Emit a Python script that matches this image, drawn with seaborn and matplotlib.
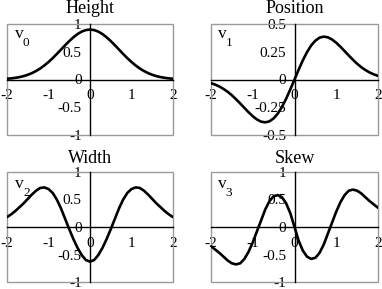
import matplotlib
matplotlib.use("Agg")
import matplotlib.pyplot as plt
import matplotlib.patches as mpatches
import matplotlib.transforms as mtransforms
from matplotlib.ticker import FixedLocator, FixedFormatter
import seaborn as sns
import pandas as pd

# ---- data ----
x_vals = [-2.0, -1.9, -1.8, -1.7, -1.6, -1.5, -1.4, -1.3, -1.2, -1.1, -1.0,
          -0.9, -0.8, -0.7, -0.6, -0.5, -0.4, -0.3, -0.2, -0.1, 0.0,
          0.1, 0.2, 0.3, 0.4, 0.5, 0.6, 0.7, 0.8, 0.9, 1.0,
          1.1, 1.2, 1.3, 1.4, 1.5, 1.6, 1.7, 1.8, 1.9, 2.0]

v0 = [0.014, 0.020, 0.030, 0.043, 0.061, 0.085, 0.115, 0.153, 0.198, 0.253, 0.315,
      0.384, 0.460, 0.538, 0.617, 0.692, 0.761, 0.819, 0.863, 0.891, 0.900,
      0.891, 0.863, 0.819, 0.761, 0.692, 0.617, 0.538, 0.460, 0.384, 0.315,
      0.253, 0.198, 0.153, 0.115, 0.085, 0.061, 0.043, 0.030, 0.020, 0.014]

v1 = [-0.033, -0.046, -0.063, -0.085, -0.111, -0.142, -0.178, -0.216, -0.256, -0.295, -0.331,
      -0.360, -0.380, -0.386, -0.377, -0.350, -0.307, -0.247, -0.173, -0.089, 0.0,
      0.089, 0.173, 0.247, 0.307, 0.350, 0.377, 0.386, 0.380, 0.360, 0.331,
      0.295, 0.256, 0.216, 0.178, 0.142, 0.111, 0.085, 0.063, 0.046, 0.033]

v2 = [0.18, 0.23, 0.29, 0.36, 0.43, 0.51, 0.59, 0.66, 0.71, 0.72, 0.69,
      0.62, 0.50, 0.34, 0.15, -0.04, -0.22, -0.38, -0.51, -0.60, -0.63,
      -0.60, -0.51, -0.38, -0.22, -0.04, 0.15, 0.34, 0.50, 0.62, 0.69,
      0.72, 0.71, 0.66, 0.59, 0.51, 0.43, 0.36, 0.29, 0.23, 0.18]

v3 = [-0.35, -0.41, -0.47, -0.54, -0.61, -0.66, -0.68, -0.66, -0.58, -0.45, -0.28,
      -0.08, 0.12, 0.32, 0.47, 0.56, 0.58, 0.54, 0.43, 0.25, 0.0,
      -0.25, -0.43, -0.54, -0.58, -0.56, -0.47, -0.32, -0.12, 0.08, 0.28,
      0.45, 0.58, 0.66, 0.68, 0.66, 0.61, 0.54, 0.47, 0.41, 0.35]

titles = ["Height", "Position", "Width", "Skew"]
names = ["v0", "v1", "v2", "v3"]
subscripts = ["0", "1", "2", "3"]

x_major = [-2, -1, 0, 1, 2]
x_major_labels = ["-2", "-1", "0", "1", "2"]
x_minor = [-1.5, -0.5, 0.5, 1.5]

y_major_wide = [-1, -0.5, 0, 0.5, 1]
y_major_wide_labels = ["-1", "-0.5", "0", "0.5", "1"]
y_minor_wide = [-0.75, -0.25, 0.25, 0.75]

y_major_narrow = [-0.5, -0.25, 0, 0.25, 0.5]
y_major_narrow_labels = ["-0.5", "-0.25", "0", "0.25", "0.5"]
y_minor_narrow = [-0.375, -0.125, 0.125, 0.375]

df = pd.DataFrame({"x": x_vals, "v0": v0, "v1": v1, "v2": v2, "v3": v3})

# ---- style ----
sns.set_theme(style="white")
plt.rcParams["font.family"] = ["Liberation Serif", "DejaVu Serif"]
plt.rcParams["axes.unicode_minus"] = False

W, H = 382, 289
fig = plt.figure(figsize=(W / 100, H / 100), dpi=100)

# panel boxes in pixels: (left, top, right, bottom)
boxes = [(7, 24, 173, 135), (211, 24, 378, 135),
         (7, 172, 173, 282), (211, 172, 378, 282)]

for i, (l, t, r, b) in enumerate(boxes):
    ax = fig.add_axes([l / W, 1 - b / H, (r - l) / W, (b - t) / H])
    ax.set_facecolor("none")
    sns.lineplot(data=df, x="x", y=names[i], ax=ax, color="black",
                 linewidth=1.9, zorder=3)
    ax.set_xlabel("")
    ax.set_ylabel("")
    ax.set_xlim(-2, 2)
    if i == 1:
        ax.set_ylim(-0.5, 0.5)
        ax.yaxis.set_major_locator(FixedLocator(y_major_narrow))
        ax.yaxis.set_major_formatter(FixedFormatter(y_major_narrow_labels))
        ax.yaxis.set_minor_locator(FixedLocator(y_minor_narrow))
    else:
        ax.set_ylim(-1, 1)
        ax.yaxis.set_major_locator(FixedLocator(y_major_wide))
        ax.yaxis.set_major_formatter(FixedFormatter(y_major_wide_labels))
        ax.yaxis.set_minor_locator(FixedLocator(y_minor_wide))
    ax.xaxis.set_major_locator(FixedLocator(x_major))
    ax.xaxis.set_major_formatter(FixedFormatter(x_major_labels))
    ax.xaxis.set_minor_locator(FixedLocator(x_minor))

    for s in ["top", "right"]:
        ax.spines[s].set_visible(False)
    for s in ["left", "bottom"]:
        ax.spines[s].set_position(("data", 0))
        ax.spines[s].set_color("black")
        ax.spines[s].set_linewidth(1.0)
    ax.add_patch(mpatches.Rectangle((0, 0), 1, 1, transform=ax.transAxes,
                                    fill=False, edgecolor="#9a9a9a",
                                    linewidth=1.0, clip_on=False, zorder=1))

    ax.tick_params(axis="x", which="major", direction="inout", length=10,
                   width=0.8, color="black", labelsize=11, pad=2)
    ax.tick_params(axis="x", which="minor", direction="inout", length=5,
                   width=0.8, color="black")
    ax.tick_params(axis="y", which="major", direction="in", length=8,
                   width=0.8, color="black", labelsize=11, pad=6)
    ax.tick_params(axis="y", which="minor", direction="in", length=5,
                   width=0.8, color="black")
    for lab in ax.get_xticklabels() + ax.get_yticklabels():
        lab.set_color("black")

    ty = 1.095 if i < 2 else 1.08
    ax.text(0.5, ty, titles[i], transform=ax.transAxes, ha="center",
            va="baseline", fontsize=13, color="black")
    vy = 0.875 if i < 2 else 0.855
    vx = 0.048 if i in (0, 2) else 0.04
    ax.text(vx, vy, "v", transform=ax.transAxes, ha="left",
            va="baseline", fontsize=12.5, color="black")
    sub_tr = mtransforms.offset_copy(ax.transAxes, fig=fig, x=8.0, y=-8.5,
                                     units="dots")
    ax.text(vx, vy, subscripts[i], transform=sub_tr, ha="left",
            va="baseline", fontsize=9.5, color="black")

fig.savefig("out.png", dpi=100)
